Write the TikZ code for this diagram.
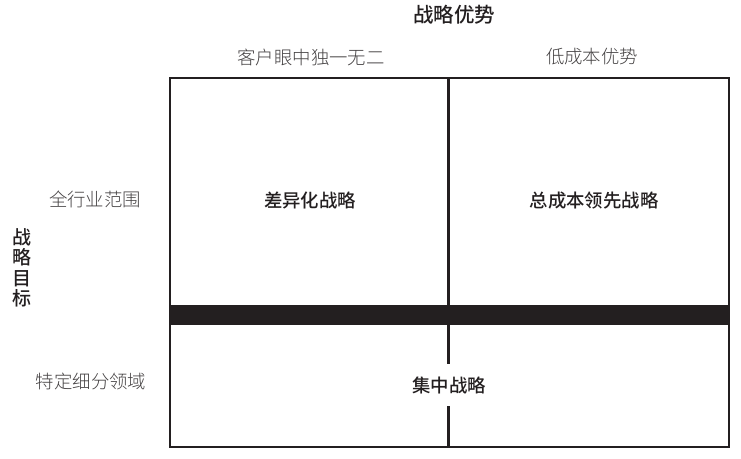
\documentclass[tikz,border=0pt]{standalone}
\usepackage{fontspec}
\setmainfont{Noto Sans CJK SC}
\newfontfamily\cjklight{Noto Sans CJK SC Light}
\newfontfamily\cjkmed{Noto Sans CJK SC Medium}
\usetikzlibrary{positioning}
\definecolor{ink}{HTML}{231F20}
\tikzset{axis/.style={font=\cjklight\fontsize{18.4}{18.4}\selectfont, text=ink!85, inner sep=1pt}}
\tikzstyle{cell}=[font=\cjkmed\fontsize{18.4}{18.4}\selectfont, text=ink, inner sep=1pt]
\tikzstyle{head}=[font=\cjkmed\fontsize{20.5}{20.5}\selectfont, text=ink, inner sep=1pt]

\begin{document}
\begin{tikzpicture}[x=1pt, y=-1pt]
\useasboundingbox (0,0) rectangle (741,458);
\coordinate (TL) at (170,78);
\coordinate (BR) at (729,447);
\coordinate (MT) at (448,78);
\coordinate (MB) at (448,447);
\coordinate (BarL) at (170,305);
\coordinate (BarR) at (730,325);
% cells
\node[cell] (diff) at (310,201) {差异化战略};
\node[cell] (lead) at (594,201) {总成本领先战略};
\node[cell, minimum height=42pt] (focus) at (449,385) {集中战略};
% frame
\draw[ink, line width=2pt] (TL) rectangle (BR);
\draw[ink, line width=3pt] (MT) -- (MT |- focus.north);
\draw[ink, line width=3pt] (MB |- focus.south) -- (MB);
\fill[ink] (BarL) rectangle (BarR);
% headings
\node[head] (adv) at (454,15) {战略优势};
\node[axis] (unique) at (311,57) {客户眼中独一无二};
\node[axis] (cost) at (592,57) {低成本优势};
\node[head, align=center, font=\cjkmed\fontsize{19}{20.5}\selectfont] (target) at (22,268) {战\\略\\目\\标};
\node[axis] (wide) at (95,199) {全行业范围};
\node[axis] (niche) at (91,381) {特定细分领域};
\end{tikzpicture}
\end{document}
